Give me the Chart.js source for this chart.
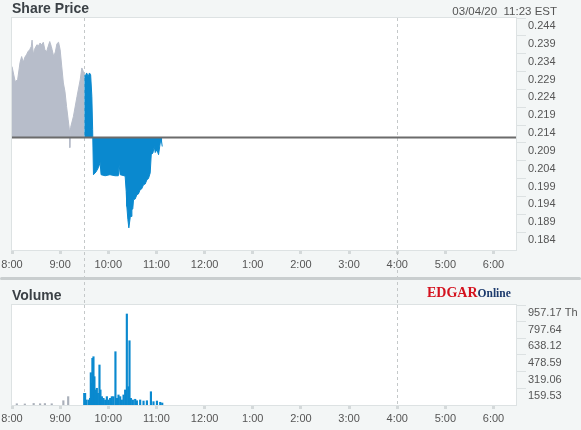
<!DOCTYPE html>
<html><head><meta charset="utf-8">
<script src="https://cdn.jsdelivr.net/npm/chart.js@4/dist/chart.umd.min.js"></script>
<style>
html,body{margin:0;padding:0;}
body{width:581px;height:430px;background:#f3f6f6;position:relative;overflow:hidden;font-family:'Liberation Sans',Arial,sans-serif;}
canvas{position:absolute;left:0;top:0;}
.title{position:absolute;left:12px;font-weight:bold;font-size:14px;color:#3b4146;line-height:16px;z-index:3}
#t1{top:0}
#t2{top:287px}
#date{position:absolute;right:24px;top:4px;font-size:11.5px;color:#555;line-height:14px;white-space:pre;z-index:3}
#sep{position:absolute;left:0;top:277px;width:581px;height:3px;background:#c9cecf;border-radius:2px;z-index:3}
#edgar{position:absolute;left:427px;top:284px;font-family:'Liberation Serif','Times New Roman',serif;font-weight:bold;line-height:16px;z-index:3;white-space:nowrap}
#edgar .e{color:#d4121e;font-size:14px;}
#edgar .o{color:#1c3a6d;font-size:11.5px;}
</style></head>
<body>
<canvas id="pc" width="581" height="430"></canvas>
<canvas id="vc" width="581" height="430"></canvas>
<div class="title" id="t1">Share Price</div>
<div id="date">03/04/20  11:23 EST</div>
<div id="sep"></div>
<div class="title" id="t2">Volume</div>
<div id="edgar"><span class="e">EDGAR</span><span class="o">Online</span></div>
<script>
// ---- data (time = minutes after 8:00) ----
const timeLabels = ['8:00','9:00','10:00','11:00','12:00','1:00','2:00','3:00','4:00','5:00','6:00'];
const hourTicks = [0,60,120,180,240,300,360,420,480,540,600];
const sessionMarks = [90, 480];           // 9:30 open, 4:00 close
const prevClose = 0.2105;
const priceTicks = [0.184,0.189,0.194,0.199,0.204,0.209,0.214,0.219,0.224,0.229,0.234,0.239,0.244];
const volumeTicks = [159.53,319.06,478.59,638.12,797.64,957.17];

const preTimes  = [0,4,7,10,12,14,16,18,20,22,24,25,26.5,28,31,33,35,37,39,41,43,45,47,49,50,52,54,56,58,60,62,64,66,68,70,71.5,72,73,76.5,81,85,87,89,90];
const prePrices = [0.2304,0.2262,0.2267,0.2315,0.2332,0.2316,0.2330,0.2337,0.2346,0.2351,0.2360,0.2378,0.2337,0.2352,0.2365,0.2362,0.2370,0.2365,0.2372,0.2351,0.2345,0.2360,0.2374,0.2360,0.2351,0.2332,0.2345,0.2368,0.2372,0.2351,0.2304,0.2258,0.2234,0.2192,0.2155,0.2127,0.2077,0.2133,0.2164,0.2220,0.2267,0.2300,0.2290,0.2278];

const regTimes  = [90,91.5,93,95,96.5,98,99.5,100.5,101.5,104.8,107.7,109.8,111,116,122,128.5,132.5,133.5,134.8,139.8,141,142.3,143.1,144.4,145.6,147.3,148.5,149.4,150.5,151.4,153.5,155.6,157.5,159.7,161.5,163.9,166,168.1,170,172.2,173.5,175.6,177.2,178.5,180.6,182.6,184.7,186,187.2];
const regPrices = [0.2278,0.2278,0.2286,0.2276,0.2286,0.2281,0.2220,0.2127,0.2001,0.2009,0.2021,0.2035,0.2001,0.1998,0.2001,0.1998,0.1998,0.2029,0.2001,0.1998,0.1996,0.1954,0.1912,0.1875,0.1852,0.1881,0.1884,0.1903,0.1905,0.1931,0.1933,0.1945,0.1947,0.1959,0.1961,0.1973,0.1975,0.1987,0.1990,0.2006,0.2057,0.2062,0.2080,0.2063,0.2071,0.2057,0.2090,0.2099,0.2080];

const volTimes  = [6,16,27,35,41,49.5,64,70,
  90,91.1,92.4,95.2,97.3,98.2,99.5,100.2,101.5,102.7,104,105.7,107,109,110.2,112,114,116.1,118.2,120.2,122.3,124.4,126.4,128.9,130.7,132.7,134.8,136.9,139,141,143.1,145.1,146.4,148.1,150.6,153.5,155.6,159.7,163.9,168.1,173.1,176.3,180.6,184.7,187.2];
const volValues = [12,10,15,12,14,12,41,80,
  112,112,48,48,64,309,208,447,462,271,144,160,112,383,144,80,64,48,80,48,64,80,80,510,64,96,80,48,96,144,871,175,615,64,48,55,41,48,38,41,127,32,38,26,19];

// ---- styling ----
const BLUE = '#0a89cf';
const GRAY = '#b7bdca';
const GRAYV = '#aab0ba';
const X_MAX = 628;
Chart.defaults.font.family = "'Liberation Sans', Arial, sans-serif";
Chart.defaults.font.size = 11;
Chart.defaults.color = '#555';

function panelPlugin(dashTop, dashBottom) {
  return {
    id: 'panel',
    beforeDraw(chart) {
      const {ctx, chartArea: a} = chart;
      ctx.save();
      ctx.fillStyle = '#ffffff';
      ctx.fillRect(a.left, a.top, a.right - a.left, a.bottom - a.top);
      ctx.strokeStyle = '#dde2e3';
      ctx.lineWidth = 1;
      ctx.strokeRect(a.left - 0.5, a.top - 0.5, a.right - a.left + 1, a.bottom - a.top + 1);
      ctx.restore();
    },
    beforeDatasetsDraw(chart) {
      const {ctx} = chart;
      const x = chart.scales.x;
      ctx.save();
      ctx.strokeStyle = '#c4c8c9';
      ctx.setLineDash([3, 3]);
      ctx.lineWidth = 1;
      for (const t of sessionMarks) {
        const px = Math.round(x.getPixelForValue(t)) + 0.5;
        ctx.beginPath();
        ctx.moveTo(px, dashTop(chart));
        ctx.lineTo(px, dashBottom(chart));
        ctx.stroke();
      }
      ctx.restore();
    }
  };
}

function noPad(s) { s.paddingLeft = 0; s.paddingRight = 0; s.paddingTop = 0; s.paddingBottom = 0; }

function xScale(height, pad) {
  return {
    type: 'linear', min: 0, max: X_MAX, offset: false,
    afterFit: s => { s.height = height; noPad(s); },
    afterBuildTicks: s => { s.ticks = hourTicks.map(v => ({value: v})); },
    grid: {drawOnChartArea: false, drawTicks: true, tickLength: 4, tickWidth: 3, tickColor: '#d4d9da', offset: false},
    border: {display: true, color: '#dde2e3'},
    ticks: {autoSkip: false, maxRotation: 0, minRotation: 0, padding: pad, color: '#555',
            callback: (v, i) => timeLabels[hourTicks.indexOf(v)] ?? ''}
  };
}

function yScale(min, max, values, fmt) {
  return {
    position: 'right', min: min, max: max,
    afterFit: s => { s.width = 65; noPad(s); },
    afterBuildTicks: s => { s.ticks = values.map(v => ({value: v})); },
    grid: {drawOnChartArea: false, drawTicks: true, tickLength: 10, tickColor: '#dce1e2'},
    border: {display: true, color: '#dde2e3'},
    ticks: {padding: 2, labelOffset: 8, color: '#555', callback: fmt}
  };
}

// ---- price chart ----
new Chart(document.getElementById('pc'), {
  type: 'line',
  data: {
    datasets: [
      {data: [{x: 0, y: prevClose}, {x: X_MAX, y: prevClose}], borderColor: '#6b6b6b', borderWidth: 2, pointRadius: 0, fill: false},
      {data: regTimes.map((t, i) => ({x: t, y: regPrices[i]})), borderColor: BLUE, backgroundColor: BLUE,
       borderWidth: 1, pointRadius: 0, tension: 0, fill: {value: prevClose}},
      {data: preTimes.map((t, i) => ({x: t, y: prePrices[i]})), borderColor: GRAY, backgroundColor: GRAY,
       borderWidth: 1, pointRadius: 0, tension: 0, fill: {value: prevClose}}
    ]
  },
  options: {
    responsive: false, animation: false, events: [],
    layout: {padding: {left: 12, top: 18, right: 0, bottom: 150}},
    plugins: {legend: {display: false}, tooltip: {enabled: false}},
    scales: {
      x: xScale(30, 4),
      y: yScale(0.179, 0.244, priceTicks, v => v.toFixed(3))
    }
  },
  plugins: [panelPlugin(c => c.chartArea.top, c => 305)]
});

// ---- volume chart ----
new Chart(document.getElementById('vc'), {
  type: 'bar',
  data: {
    datasets: [{
      data: volTimes.map((t, i) => ({x: t, y: volValues[i]})),
      backgroundColor: c => (c.raw && c.raw.x < 90 ? GRAYV : BLUE),
      barThickness: 1.5, grouped: false
    }]
  },
  options: {
    responsive: false, animation: false, events: [],
    layout: {padding: {left: 12, top: 305, right: 0, bottom: 3}},
    plugins: {legend: {display: false}, tooltip: {enabled: false}},
    scales: {
      x: xScale(22, 3),
      y: yScale(0, 957.17, volumeTicks,
        v => v === volumeTicks[volumeTicks.length - 1] ? v.toFixed(2) + ' Th' : v.toFixed(2))
    }
  },
  plugins: [panelPlugin(c => c.chartArea.top, c => c.chartArea.bottom)]
});
</script>
</body></html>
